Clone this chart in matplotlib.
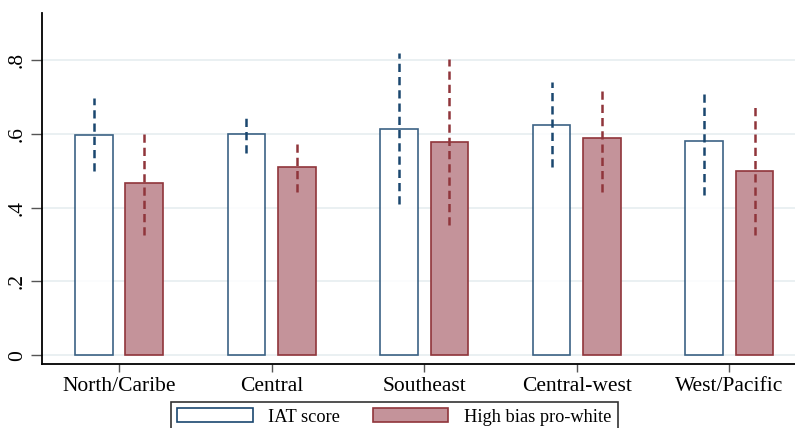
import numpy as np
import matplotlib.pyplot as plt
from matplotlib.patches import Patch

plt.rcParams['font.family'] = ['Liberation Serif', 'DejaVu Serif']

# regional means with confidence intervals
regions = ['North/Caribe', 'Central', 'Southeast', 'Central-west', 'West/Pacific']
iat = [0.597, 0.600, 0.614, 0.624, 0.580]
iat_lo = [0.499, 0.547, 0.411, 0.509, 0.434]
iat_hi = [0.696, 0.645, 0.818, 0.741, 0.717]
high_bias = [0.468, 0.511, 0.578, 0.589, 0.500]
hb_lo = [0.327, 0.442, 0.354, 0.442, 0.325]
hb_hi = [0.610, 0.578, 0.803, 0.728, 0.675]

navy = '#1a476f'
maroon = '#90353b'
fill = '#c4939a'

fig = plt.figure(figsize=(7.95, 4.28), dpi=100)
ax = fig.add_axes([0.0528, 0.1488, 0.9472, 0.8202])

x = np.arange(len(regions))
w = 0.247
off = 0.165

ax.bar(x - off, iat, w, color='white', edgecolor=navy, linewidth=1.2, alpha=0.85, zorder=2)
ax.bar(x + off, high_bias, w, color=fill, edgecolor=maroon, linewidth=1.2, zorder=2)

ax.vlines(x - off, iat_lo, iat_hi, colors=navy, linewidth=1.8,
          linestyles=(0, (3.3, 2.0)), zorder=3)
ax.vlines(x + off, hb_lo, hb_hi, colors=maroon, linewidth=1.8,
          linestyles=(0, (3.3, 2.0)), zorder=3)

ax.set_xlim(-0.505, 4.43)
ax.set_ylim(-0.025, 0.927)

ax.set_yticks([0, 0.2, 0.4, 0.6, 0.8])
ax.set_yticklabels(['0', '.2', '.4', '.6', '.8'], rotation=90, va='center', fontsize=15.5)
ax.set_xticks(x)
ax.set_xticklabels(regions, fontsize=15.5)
ax.tick_params(axis='y', length=8, width=1, color='#555555', pad=3)
ax.tick_params(axis='x', length=6, width=1, color='#555555', pad=3)

ax.yaxis.grid(True, color='#e6eef0', linewidth=1.2, zorder=0)
ax.set_axisbelow(True)

for s in ['top', 'right']:
    ax.spines[s].set_visible(False)
for s in ['left', 'bottom']:
    ax.spines[s].set_linewidth(1.3)
    ax.spines[s].set_color('black')

handles = [Patch(facecolor='white', edgecolor=navy, linewidth=1.2, label='IAT score'),
           Patch(facecolor=fill, edgecolor=maroon, linewidth=1.2, label='High bias pro-white')]
leg = fig.legend(handles=handles, loc='upper center', bbox_to_anchor=(0.496, 0.0607),
                 ncol=2, fontsize=13.2, frameon=True, fancybox=False, edgecolor='black',
                 handlelength=4.1, handleheight=0.8, handletextpad=0.85,
                 columnspacing=1.8, borderpad=0.35, borderaxespad=0)
leg.get_frame().set_linewidth(1.2)

fig.savefig('out.png', dpi=100)
